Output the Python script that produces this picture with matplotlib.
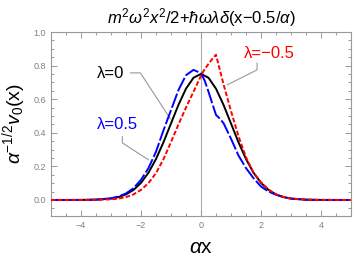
import numpy as np
import matplotlib.pyplot as plt
from matplotlib.ticker import MultipleLocator

plt.rcParams['mathtext.fontset'] = 'custom'
plt.rcParams['mathtext.rm'] = 'Liberation Sans'
plt.rcParams['mathtext.it'] = 'Liberation Sans:italic'
plt.rcParams['font.family'] = ['Liberation Sans', 'DejaVu Sans']

# lambda = 0 (black)
x_black = [-5, -4, -3.5, -3, -2.75, -2.5, -2.25, -2, -1.75, -1.5, -1.25, -1, -0.75, -0.5,
           -0.25, 0, 0.25, 0.5, 0.75, 1, 1.25, 1.5, 1.75, 2, 2.25, 2.5, 2.75, 3, 3.5, 4, 5]
y_black = [0.0, 0.0003, 0.0016, 0.0083, 0.0171, 0.033, 0.0598, 0.1017, 0.1625, 0.2439, 0.3439,
           0.4556, 0.5669, 0.6629, 0.728, 0.7511, 0.728, 0.6629, 0.5669, 0.4556, 0.3439, 0.2439,
           0.1625, 0.1017, 0.0598, 0.033, 0.0171, 0.0083, 0.0016, 0.0003, 0.0]

# lambda = 0.5 (blue)
x_blue = [-5, -4, -3.5, -3, -2.75, -2.5, -2.25, -2, -1.75, -1.5, -1.25, -1, -0.75, -0.5,
          -0.25, 0, 0.125, 0.25, 0.375, 0.5, 0.625, 0.75, 1, 1.25, 1.5, 1.75, 2, 2.25, 2.5,
          2.75, 3, 3.5, 4, 5]
y_blue = [0.0, 0.0004, 0.002, 0.010, 0.0206, 0.039, 0.070, 0.120, 0.190, 0.287, 0.415, 0.535,
          0.655, 0.743, 0.775, 0.755, 0.71, 0.645, 0.575, 0.507, 0.485, 0.458, 0.365, 0.265,
          0.19, 0.13, 0.08, 0.05, 0.031, 0.017, 0.008, 0.0015, 0.0002, 0.0]

# lambda = -0.5 (red)
x_red = [-5, -4, -3.5, -3, -2.75, -2.5, -2.25, -2, -1.75, -1.5, -1.25, -1, -0.75, -0.5,
         -0.25, 0, 0.125, 0.25, 0.375, 0.5, 0.75, 1, 1.25, 1.5, 1.75, 2, 2.25, 2.5, 2.75, 3,
         3.5, 4, 5]
y_red = [0.0, 0.0001, 0.0007, 0.004, 0.008, 0.017, 0.033, 0.06, 0.1, 0.16, 0.243, 0.345, 0.45,
         0.55, 0.645, 0.74, 0.78, 0.81, 0.84, 0.865, 0.69, 0.53, 0.38, 0.255, 0.163, 0.105,
         0.062, 0.034, 0.018, 0.0085, 0.0017, 0.0003, 0.0]

fig = plt.figure(figsize=(3.54, 2.63), dpi=100)
ax = fig.add_axes([0.144, 0.179, 0.8475, 0.699])

gray = '#999999'
ax.axvline(0, color='#b0b0b0', lw=0.8, zorder=1)

ax.plot(x_black, y_black, color='black', lw=1.4, zorder=3)
lb, = ax.plot(x_blue, y_blue, color='#0000ff', lw=1.4, zorder=4)
lb.set_dashes((7.7, 1.3))
lr, = ax.plot(x_red, y_red, color='#ff0000', lw=1.4, zorder=5)
lr.set_dashes((2.4, 1.1))

ax.set_xlim(-5, 5)
ax.set_ylim(-0.095, 1.0)
ax.xaxis.set_major_locator(MultipleLocator(2))
ax.xaxis.set_minor_locator(MultipleLocator(0.5))
ax.yaxis.set_major_locator(MultipleLocator(0.2))
ax.yaxis.set_minor_locator(MultipleLocator(0.05))
ax.yaxis.set_major_formatter(plt.FormatStrFormatter('%.1f'))
ax.xaxis.set_major_formatter(plt.FuncFormatter(lambda v, p: f'{v:.0f}'.replace('-', '\u2212')))
ax.tick_params(which='both', direction='in', top=True, right=True, color=gray,
               labelcolor='#808080', labelsize=6.5, width=0.7)
ax.tick_params(which='major', length=4)
ax.tick_params(which='minor', length=2)
for s in ax.spines.values():
    s.set_color(gray)
    s.set_linewidth(0.8)

ax.set_xlabel(r'$\alpha$x', fontsize=15, labelpad=6)
ax.set_ylabel(r'$\alpha^{-1/2}v_0$(x)', fontsize=14, labelpad=4)
ax.set_title(r'$m^2\omega^2x^2/2$+$\hbar\omega\lambda\delta$(x$-$0.5/$\alpha$)', fontsize=12, pad=6)

# callout labels with leader lines
ax.text(-3.02, 0.754, '\u03bb=0', fontsize=12, color='black', ha='center', va='center')
ax.plot([-2.35, -2.02, -1.02], [0.757, 0.757, 0.483], color=gray, lw=0.8, zorder=2)

ax.text(-2.78, 0.447, '\u03bb=0.5', fontsize=12, color='#0000ff', ha='center', va='center')
ax.plot([-2.62, -2.62, -1.75], [0.377, 0.34, 0.239], color=gray, lw=0.8, zorder=2)

ax.text(2.28, 0.87, '\u03bb=\u22120.5', fontsize=12, color='#ff0000', ha='center', va='center')
ax.plot([1.87, 1.87, 0.88], [0.815, 0.775, 0.686], color=gray, lw=0.8, zorder=2)

fig.savefig('out.png', dpi=100)
